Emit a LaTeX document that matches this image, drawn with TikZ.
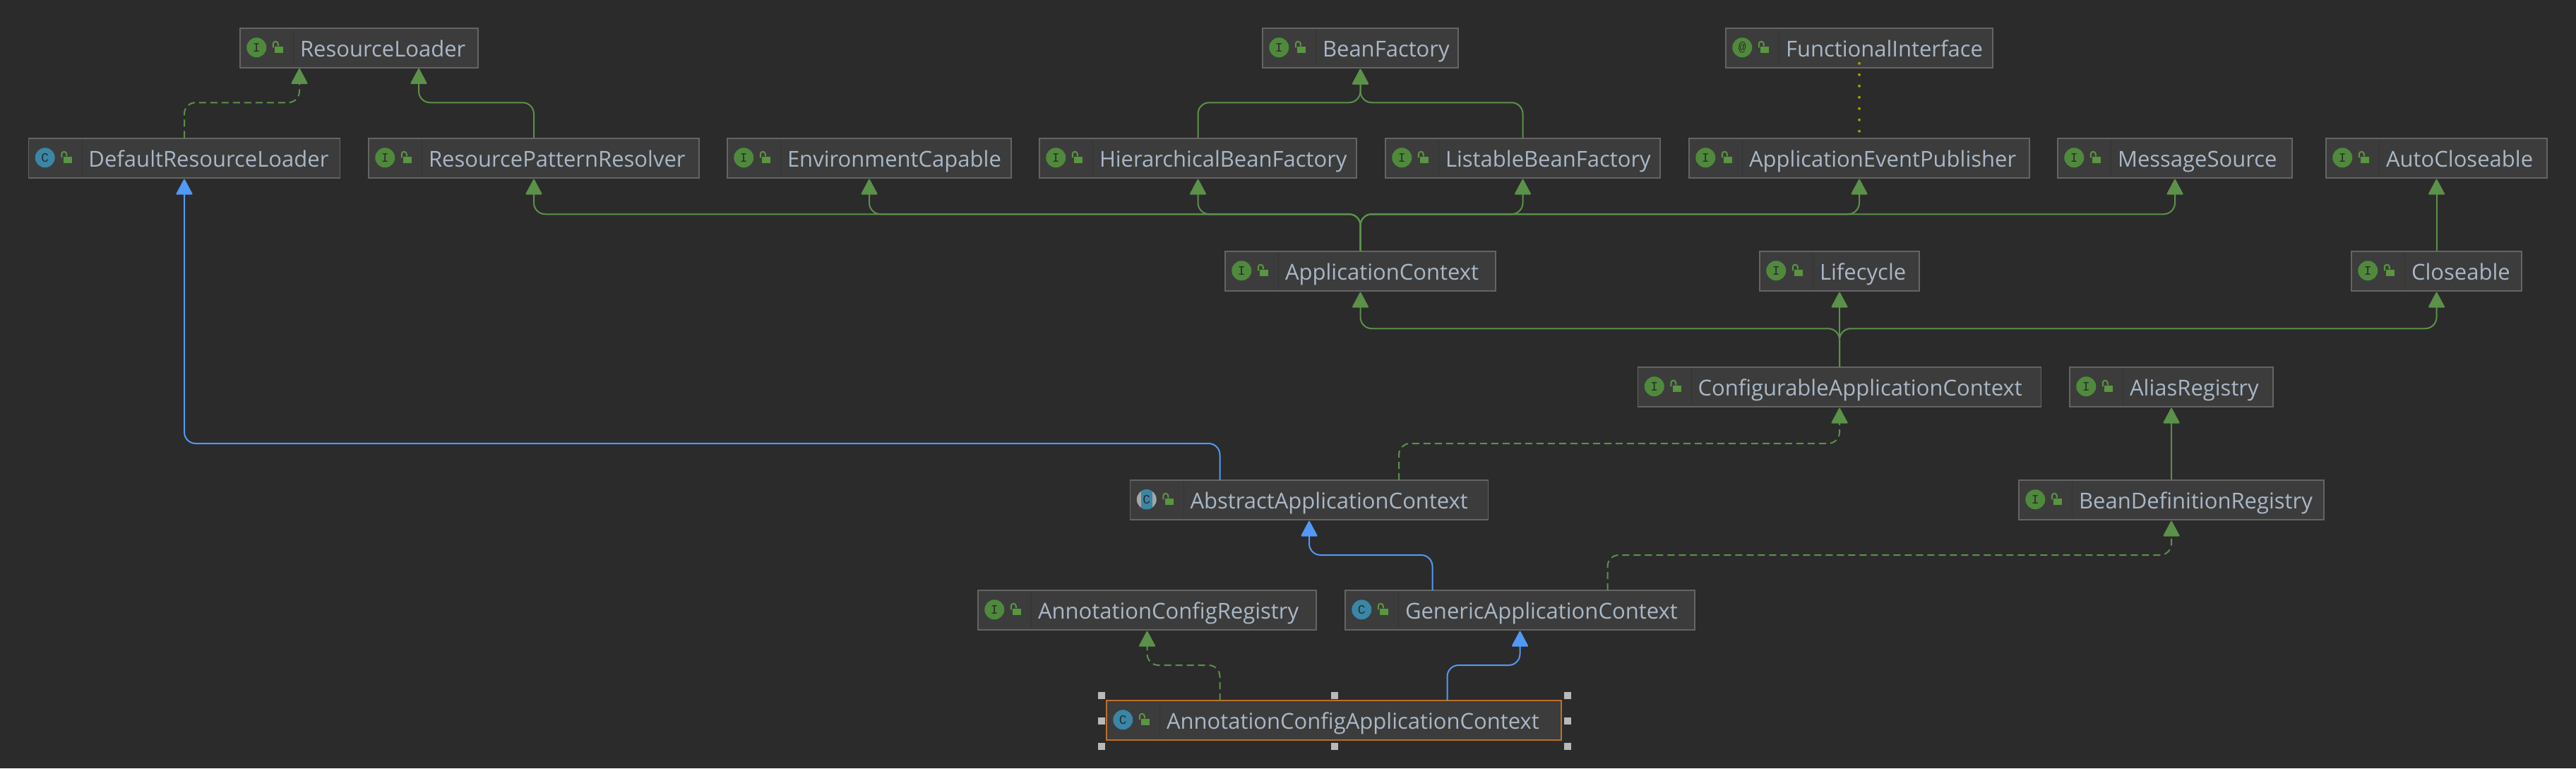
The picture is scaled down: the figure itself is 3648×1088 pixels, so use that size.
\documentclass[tikz,border=0pt]{standalone}
\usepackage{fontspec}
\setmainfont{Open Sans}
\newfontfamily\iconfont{Liberation Mono}
\usetikzlibrary{arrows.meta, positioning, calc}
\definecolor{canvas}{HTML}{2B2B2B}
\definecolor{boxfill}{HTML}{3C3C3C}
\definecolor{boxline}{HTML}{646464}
\definecolor{labeltext}{HTML}{A9B7C6}
\definecolor{implgreen}{HTML}{5B9149}
\definecolor{lockgreen}{HTML}{59963F}
\definecolor{ifacegreen}{HTML}{4F8A3C}
\definecolor{classblue}{HTML}{3A86A6}
\definecolor{extblue}{HTML}{5299F7}
\definecolor{selorange}{HTML}{BE6F2A}
\definecolor{dotyellow}{HTML}{9E9E00}
\tikzset{
  umlbox/.style={draw=boxline, fill=boxfill, line width=1.5pt, inner xsep=0pt, inner ysep=0pt,
    text height=40pt, text depth=16pt, align=left, text=labeltext,
    font=\fontsize{31}{36}\selectfont},
  iconcirc/.style={circle, inner sep=0pt, minimum size=28pt, text=canvas,
    font=\iconfont\fontsize{18}{18}\selectfont},
  greenlink/.style={draw=implgreen, line width=2pt, rounded corners=16pt, shorten >=1pt,
    -{Triangle[length=23pt,width=24pt,round=false]}},
  dashlink/.style={greenlink, dash pattern=on 10pt off 6pt},
  bluelink/.style={greenlink, draw=extblue},
}
% icon and lock of one class box
\newcommand{\lockmark}[1]{%
  \fill[lockgreen] ([shift={(50,27)}]#1.north west) rectangle ([shift={(62,36)}]#1.north west);
  \draw[lockgreen, line width=2pt] ([shift={(47.5,28)}]#1.north west) -- ([shift={(47.5,23)}]#1.north west)
    arc[start angle=180, end angle=0, radius=3.5pt] -- ([shift={(54.5,26)}]#1.north west);
  \draw[black, opacity=.12] ([shift={(76,2)}]#1.north west) -- ([shift={(76,54)}]#1.north west);
}
\newcommand{\ifaceicon}[2][I]{%
  \node[iconcirc, fill=ifacegreen] (#2-icon) at ([shift={(24,28)}]#2.north west) {#1};
  \lockmark{#2}}
\newcommand{\classicon}[1]{%
  \node[iconcirc, fill=classblue] (#1-icon) at ([shift={(24,28)}]#1.north west) {C};
  \lockmark{#1}}

\begin{document}
\begin{tikzpicture}[x=1pt,y=-1pt]
\useasboundingbox[fill=canvas] (0,0) rectangle (3648,1088);
% top row
\node[umlbox, text width=337pt] (resloader) at (508.5,68) {\hspace*{85pt}ResourceLoader};
\node[umlbox, text width=277pt] (beanfac) at (1926.5,68) {\hspace*{85pt}BeanFactory};
\node[umlbox, text width=378pt] (funcif) at (2633,68) {\hspace*{85pt}FunctionalInterface};
% second row
\node[umlbox, text width=441pt] (defloader) at (261,224) {\hspace*{85pt}DefaultResourceLoader};
\node[umlbox, text width=468pt] (patres) at (756,224) {\hspace*{85pt}ResourcePatternResolver};
\node[umlbox, text width=402pt] (envcap) at (1231,224) {\hspace*{85pt}EnvironmentCapable};
\node[umlbox, text width=449pt] (hierfac) at (1696.5,224) {\hspace*{85pt}HierarchicalBeanFactory};
\node[umlbox, text width=389pt] (listfac) at (2156.5,224) {\hspace*{85pt}ListableBeanFactory};
\node[umlbox, text width=482pt] (evpub) at (2633,224) {\hspace*{85pt}ApplicationEventPublisher};
\node[umlbox, text width=332pt] (msgsrc) at (3080,224) {\hspace*{85pt}MessageSource};
\node[umlbox, text width=313pt] (autoclose) at (3450.5,224) {\hspace*{85pt}AutoCloseable};
% third row
\node[umlbox, text width=383pt] (appctx) at (1926.5,384) {\hspace*{85pt}ApplicationContext};
\node[umlbox, text width=226pt] (lifecyc) at (2605,384) {\hspace*{85pt}Lifecycle};
\node[umlbox, text width=241pt] (closeable) at (3450.5,384) {\hspace*{85pt}Closeable};
% lower rows
\node[umlbox, text width=571pt] (confctx) at (2605,548) {\hspace*{85pt}ConfigurableApplicationContext};
\node[umlbox, text width=288pt] (alias) at (3075,548) {\hspace*{85pt}AliasRegistry};
\node[umlbox, text width=507pt] (absctx) at (1854,708) {\hspace*{85pt}AbstractApplicationContext};
\node[umlbox, text width=432pt] (beandef) at (3075,708) {\hspace*{85pt}BeanDefinitionRegistry};
\node[umlbox, text width=479pt] (annreg) at (1624.5,864) {\hspace*{85pt}AnnotationConfigRegistry};
\node[umlbox, text width=495pt] (genctx) at (2152.5,864) {\hspace*{85pt}GenericApplicationContext};
\node[umlbox, draw=selorange, text width=644pt] (annctx) at (1889,1020) {\hspace*{85pt}AnnotationConfigApplicationContext};
% icons
\foreach \nn in {resloader,beanfac,patres,envcap,hierfac,listfac,evpub,msgsrc,autoclose,appctx,lifecyc,closeable,confctx,alias,beandef,annreg}
  {\ifaceicon{\nn}}
\ifaceicon[@]{funcif}
\foreach \nn in {defloader,genctx,annctx}
  {\classicon{\nn}}
% abstract class icon
\node[iconcirc, fill=gray!70] (absctx-icon) at ([shift={(24,28)}]absctx.north west) {};
\begin{scope}
\clip (absctx-icon) circle[radius=14pt];
\fill[classblue] ([xshift=-8pt,yshift=-14pt]absctx-icon.center) rectangle ([xshift=8pt,yshift=14pt]absctx-icon.center);
\end{scope}
\node[iconcirc, text=canvas] at (absctx-icon) {C};
\lockmark{absctx}
% connectors
\coordinate (defup) at (424,96);
\coordinate (patup) at (593,96);
\draw[dashlink] (defloader.north) -- ++(0,-50) -| (defup);
\draw[greenlink] (patres.north) -- ++(0,-50) -| (patup);
\draw[greenlink] (hierfac.north) -- ++(0,-50) -| (beanfac.south);
\draw[greenlink] (listfac.north) -- ++(0,-50) -| (beanfac.south);
\draw[dash pattern=on 0pt off 16pt, line cap=round, line width=4pt, draw=dotyellow] ([yshift=7pt]funcif.south) -- (evpub.north);
\foreach \tgt in {patres,envcap,hierfac,listfac,evpub,msgsrc}
  {\draw[greenlink] (appctx.north) -- ++(0,-52) -| (\tgt.south);}
\foreach \tgt in {appctx,closeable}
  {\draw[greenlink] (confctx.north) -- ++(0,-54) -| (\tgt.south);}
\draw[greenlink] (confctx.north) -- (lifecyc.south);
\draw[greenlink] (closeable.north) -- (autoclose.south);
\draw[greenlink] (beandef.north) -- (alias.south);
\coordinate (absleft) at (1727.5,680);
\coordinate (absright) at (1981,680);
\coordinate (genleft) at (2028.5,836);
\coordinate (genright) at (2276.5,836);
\coordinate (annleft) at (1727.5,992);
\coordinate (annright) at (2049.5,992);
\draw[bluelink] (absleft) -- ++(0,-52) -| (defloader.south);
\draw[dashlink] (absright) -- ++(0,-52) -| (confctx.south);
\draw[bluelink] (genleft) -- ++(0,-50) -| (absctx.south);
\draw[dashlink] (genright) -- ++(0,-50) -| (beandef.south);
\draw[dashlink] (annleft) -- ++(0,-50) -| (annreg.south);
\draw[bluelink] (annright) -- ++(0,-50) -| (genctx.south);
% selection handles
\foreach \hx/\hy in {1560/985,1890/985,2220/985,1560/1021,2220/1021,1560/1057,1890/1057,2220/1057}
  {\fill[gray!55!white] (\hx-5,\hy-5) rectangle (\hx+5,\hy+5);}
\end{tikzpicture}
\end{document}
